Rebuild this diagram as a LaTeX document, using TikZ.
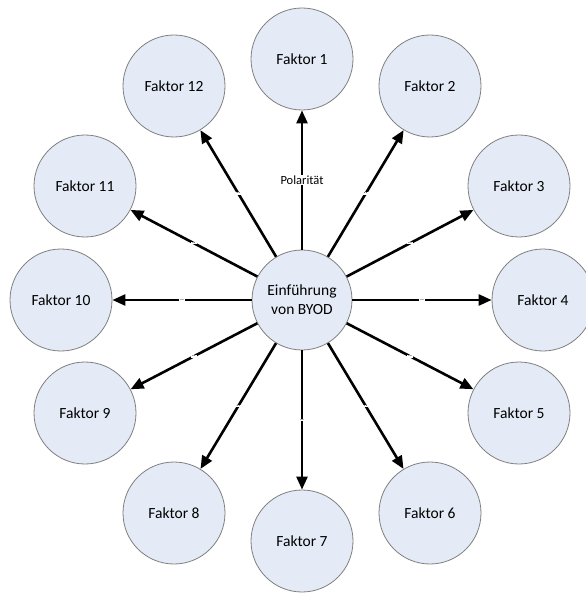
\documentclass[tikz,border=0pt]{standalone}
\usepackage{fontspec}
\setmainfont{Carlito}
\usetikzlibrary{arrows.meta, positioning}
\definecolor{faktorfill}{HTML}{E4EBF6}
\definecolor{faktorline}{HTML}{7F7F7F}

\begin{document}
\begin{tikzpicture}[
    x=1pt, y=-1pt,
    bubble/.style={circle, draw=faktorline, line width=0.8pt, fill=faktorfill,
                   minimum size=102pt, inner sep=0pt, align=center,
                   font=\fontsize{15.5}{19}\selectfont},
    link/.style={-{Triangle[length=13pt, width=11pt]}, line width=2.6pt},
    tag/.style={fill=white, inner sep=0.8pt, font=\fontsize{7.5}{7.5}\selectfont}
  ]
  \useasboundingbox (0,0) rectangle (585,593);

  % Mitte
  \node[bubble, minimum size=100pt] (byod) at (302,300) {Einführung\\von BYOD};

  % Faktoren rundherum
  \foreach \dx/\dy [count=\i] in {0/-241, 128/-214, 217/-114, 241/0, 217/113,
      128/213, 0/241, -128/213, -217/113, -241/0, -217/-114, -128/-214} {
    \node[bubble] (f\i) at (302+\dx, 300+\dy) {Faktor \i};
  }

  % Pfeile
  \draw[link] (byod) -- (f1)
    node[midway, tag, font=\fontsize{12.5}{12.5}\selectfont] {Polarität};
  \foreach \i in {2,...,12} {
    \draw[link] (byod) -- (f\i) node[midway, tag] {..};
  }
\end{tikzpicture}
\end{document}
